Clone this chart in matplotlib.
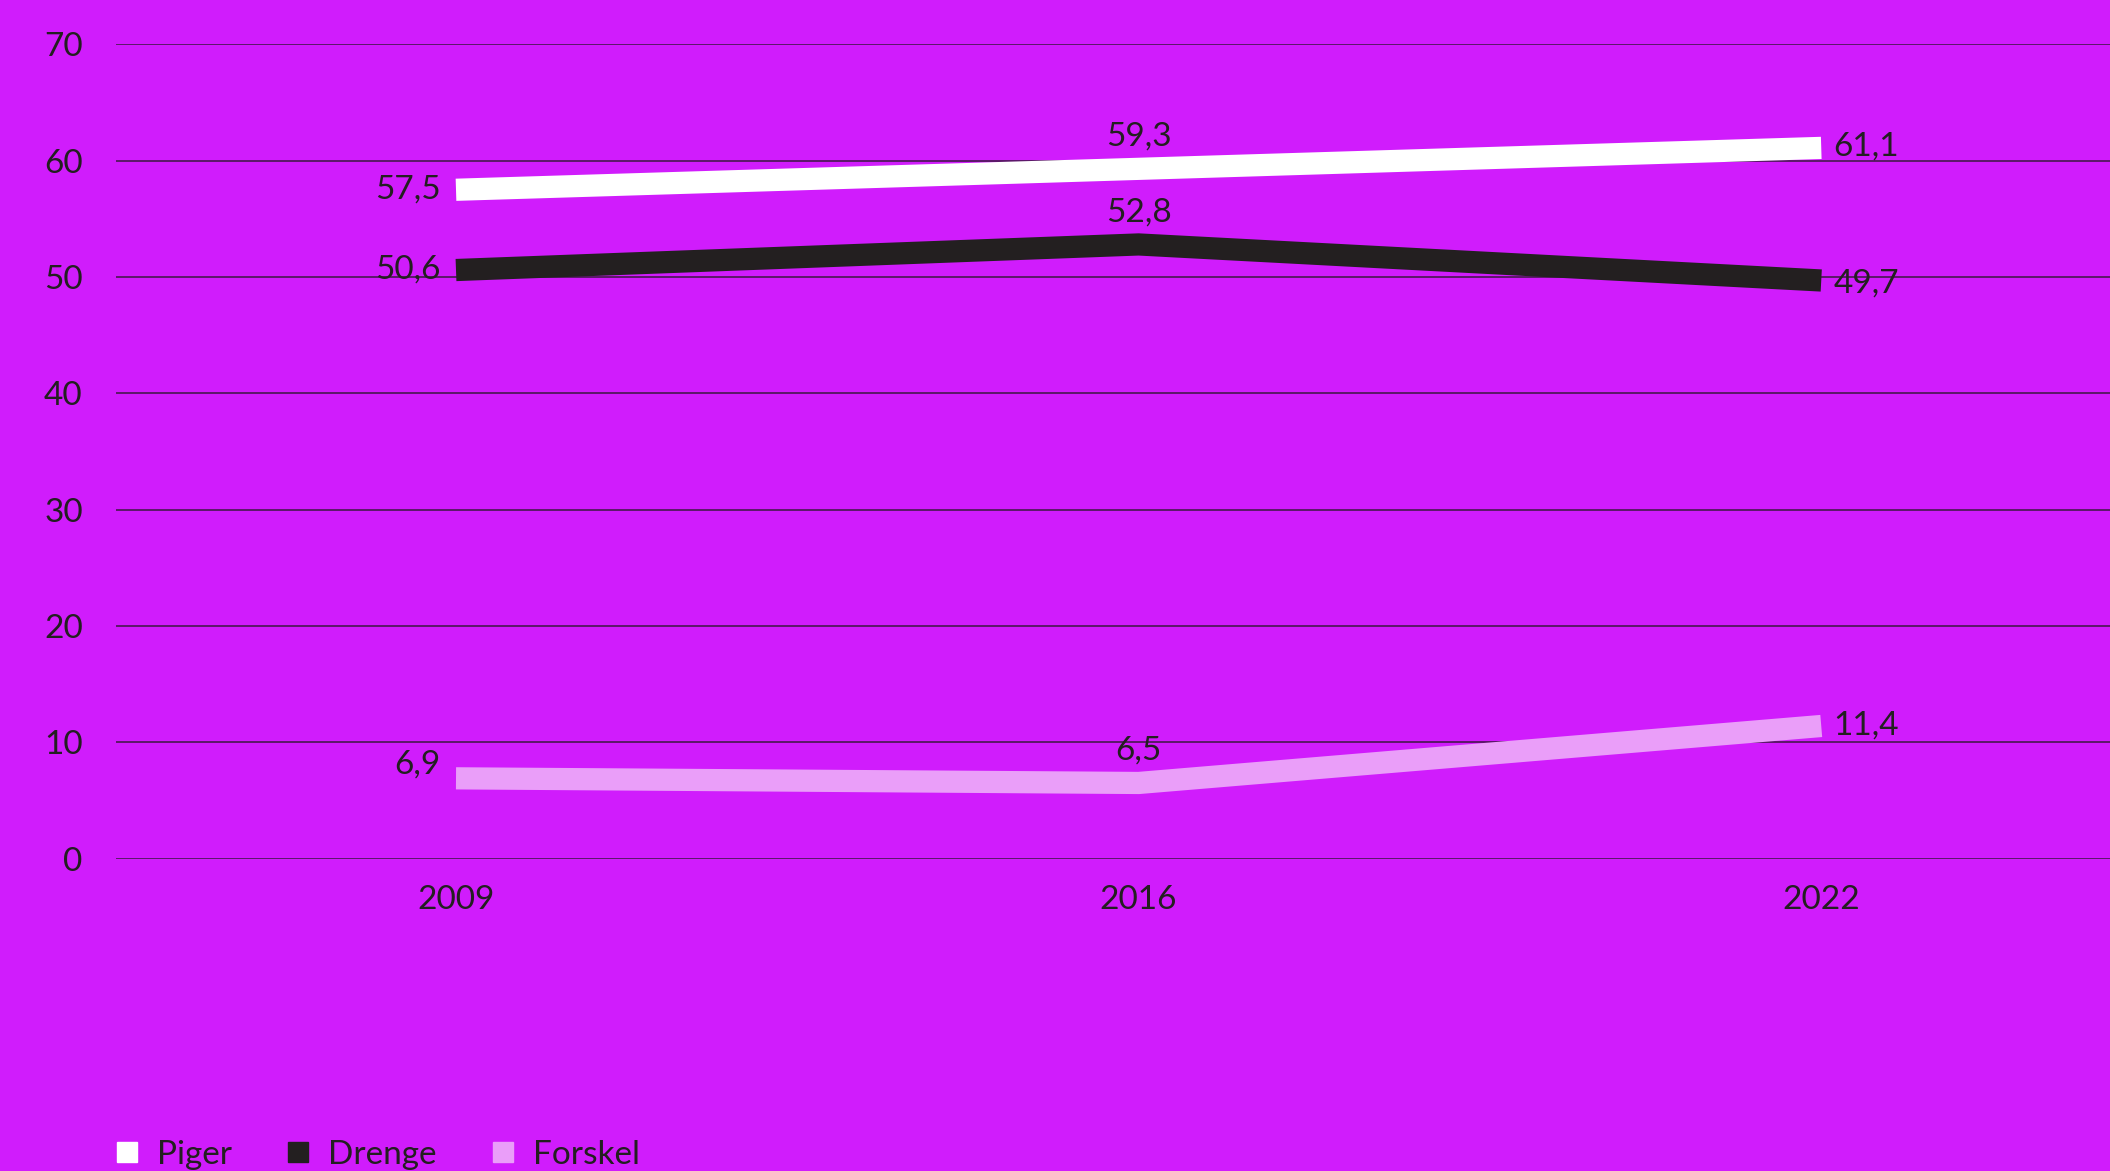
import matplotlib.pyplot as plt
from matplotlib.lines import Line2D

years = ["2009", "2016", "2022"]
piger = [57.5, 59.3, 61.1]
drenge = [50.6, 52.8, 49.7]
forskel = [6.9, 6.5, 11.4]
series_names = ["Piger", "Drenge", "Forskel"]
yticks = [0, 10, 20, 30, 40, 50, 60, 70]

bg = "#d01cfc"
ink = "#231f20"
colors = ["#ffffff", "#231f20", "#ea9ef9"]

plt.rcParams["font.family"] = ["Lato", "DejaVu Sans"]
fs = 24

fig = plt.figure(figsize=(21.1, 11.71), dpi=100, facecolor=bg)
ax = fig.add_axes([0.055, 0.2668, 0.945, 0.6953], facecolor=bg)

x = list(range(len(years)))
for vals, c in zip([piger, drenge, forskel], colors):
    ax.plot(x, vals, color=c, linewidth=16, solid_capstyle="butt",
            solid_joinstyle="miter", zorder=3)


def fmt(v):
    return f"{v:.1f}".replace(".", ",")


# labels: first point to the left, middle above, last to the right
for vals, first_dy, last_dy in zip([piger, drenge, forskel], [0, 0, 10], [1, -2, 0]):
    ax.annotate(fmt(vals[0]), (x[0], vals[0]), xytext=(-11, first_dy),
                textcoords="offset points", ha="right", va="center",
                fontsize=fs, color=ink, zorder=4)
    ax.annotate(fmt(vals[1]), (x[1], vals[1]), xytext=(0, 23),
                textcoords="offset points", ha="center", va="center",
                fontsize=fs, color=ink, zorder=4)
    ax.annotate(fmt(vals[2]), (x[2], vals[2]), xytext=(9, last_dy),
                textcoords="offset points", ha="left", va="center",
                fontsize=fs, color=ink, zorder=4)

ax.set_xlim(-0.498, 2.423)
ax.set_ylim(0, 70)
ax.set_xticks(x)
ax.set_xticklabels(years)
ax.set_yticks(yticks)
ax.tick_params(axis="both", length=0, labelsize=fs, labelcolor=ink)
ax.tick_params(axis="x", pad=19)
ax.tick_params(axis="y", pad=24)
ax.grid(axis="y", color="#3a1840", linewidth=1.1, zorder=1)
for s in ax.spines.values():
    s.set_visible(False)

handles = [Line2D([], [], marker="s", linestyle="none", markersize=15,
                  markerfacecolor=c, markeredgecolor=c) for c in colors]
fig.legend(handles, series_names, loc="center left",
           bbox_to_anchor=(0.041, 0.014), ncol=3, frameon=False,
           fontsize=fs, labelcolor=ink, handlelength=0.6,
           handletextpad=0.6, columnspacing=1.7)

fig.savefig("out.png", dpi=100, facecolor=bg)
